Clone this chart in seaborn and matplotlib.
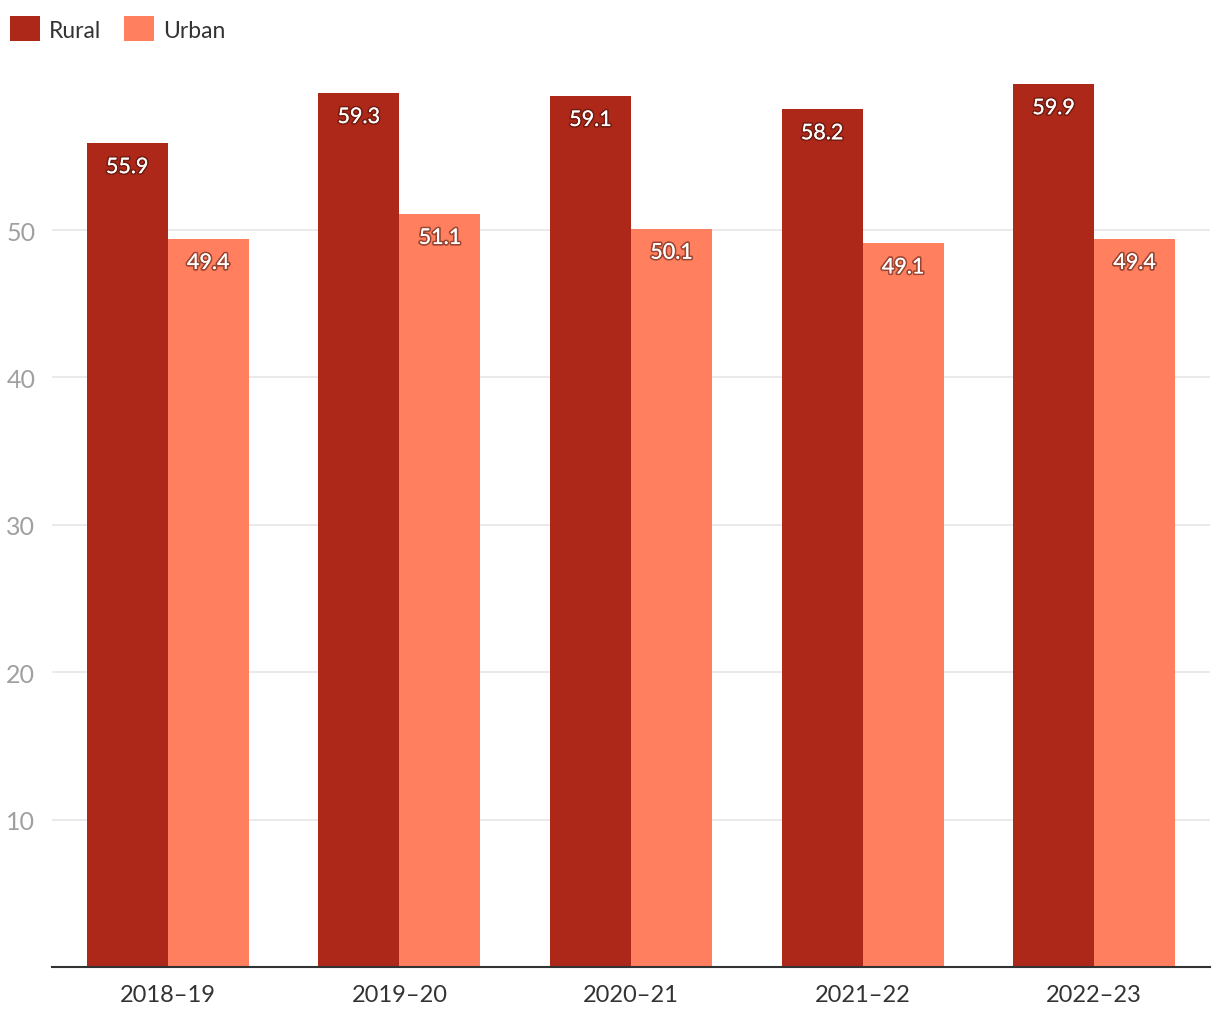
import matplotlib
matplotlib.use("Agg")
import matplotlib.pyplot as plt
import matplotlib.patheffects as pe
from matplotlib.patches import Patch
import seaborn as sns
import pandas as pd

years = ["2018-19", "2019-20", "2020-21", "2021-22", "2022-23"]
rural = [55.9, 59.3, 59.1, 58.2, 59.9]
urban = [49.4, 51.1, 50.1, 49.1, 49.4]
series = ["Rural", "Urban"]
colors = ["#AD2819", "#FF7F5E"]

df = pd.DataFrame({
    "year": years * 2,
    "value": rural + urban,
    "area": ["Rural"] * len(years) + ["Urban"] * len(years),
})

sns.set_theme(style="white")
plt.rcParams["font.family"] = ["Lato", "DejaVu Sans"]

fig = plt.figure(figsize=(12.2, 10.2), dpi=100)
ax = fig.add_axes([52 / 1220, 1 - 968 / 1020, (1210 - 52) / 1220, (968 - 69) / 1020])

sns.barplot(data=df, x="year", y="value", hue="area", hue_order=series,
            palette=colors, width=0.7, saturation=1, ax=ax, legend=False,
            linewidth=0, errorbar=None)

ax.set_ylim(0, 61)
ax.set_xlim(-0.5, len(years) - 0.5)
ax.set_yticks([10, 20, 30, 40, 50])
ax.yaxis.grid(True, color="#e6e6e6", linewidth=1.2)
ax.set_axisbelow(True)
for s in ["top", "right", "left"]:
    ax.spines[s].set_visible(False)
ax.spines["bottom"].set_color("#333333")
ax.spines["bottom"].set_linewidth(1.5)
ax.set_xlabel("")
ax.set_ylabel("")
ax.tick_params(axis="y", length=0, labelsize=18, labelcolor="#a0a0a0", pad=12)
ax.tick_params(axis="x", length=0, labelsize=17, labelcolor="#333333", pad=12)
ax.set_xticks(range(len(years)))
ax.set_xticklabels([y.replace("-", "\u2013") for y in years])

effects = [pe.withStroke(linewidth=2.5, foreground="#4a140c", alpha=0.55), pe.Normal()]
for cont in ax.containers:
    for bar in cont:
        h = bar.get_height()
        ax.annotate(f"{h:.1f}", (bar.get_x() + bar.get_width() / 2, h),
                    xytext=(0, -24), textcoords="offset pixels",
                    ha="center", va="center", fontsize=15.5, color="white",
                    path_effects=effects)

handles = [Patch(facecolor=c, edgecolor="none") for c in colors]
fig.legend(handles, series, loc="upper left", bbox_to_anchor=(0.008, 0.983),
           ncol=2, frameon=False, fontsize=16.5, labelcolor="#333333",
           handlelength=1.3, handleheight=1.3, handletextpad=0.4,
           columnspacing=1.0, borderaxespad=0, borderpad=0)

fig.savefig("out.png", dpi=100, facecolor="white")
